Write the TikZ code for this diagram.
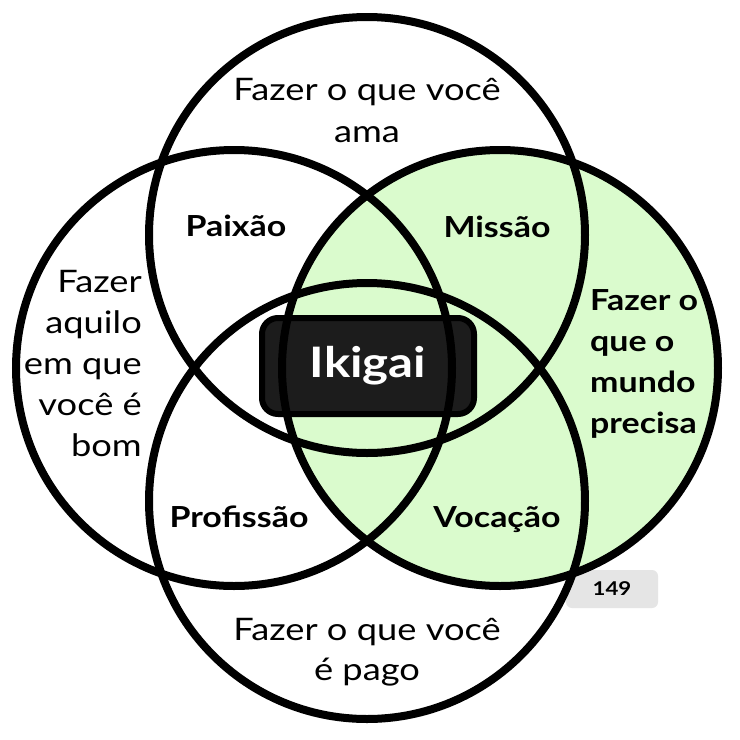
\documentclass[tikz,border=0pt]{standalone}
\usepackage{fontspec}
\setmainfont{Lato}[FakeStretch=1.17]
\definecolor{vgreen}{RGB}{218,251,205}
\definecolor{badgegray}{RGB}{229,229,229}
\definecolor{boxfill}{RGB}{28,28,28}
\begin{document}
\begin{tikzpicture}[x=1pt,y=-1pt,
  ring/.style={draw=black,line width=8pt},
  plain/.style={font=\fontsize{31}{38}\selectfont,inner sep=0pt,anchor=base},
  bold/.style={font=\fontsize{29}{36}\selectfont\bfseries,inner sep=0pt,anchor=base}]
\useasboundingbox (0,0) rectangle (740,740);
\fill[white] (0,0) rectangle (740,740);
% coordinates of the circle centres
\coordinate (ctop) at (367,235);
\coordinate (cbot) at (367,501);
\coordinate (cleft) at (234,368);
\coordinate (cright) at (500,368);
% green circle
\fill[vgreen] (cright) circle[radius=218pt];
% badge
\node[fill=badgegray,rounded corners=6pt,minimum width=92pt,minimum height=38pt,inner sep=0pt,
  font=\fontsize{19}{22}\selectfont\bfseries] (badge) at (612,589) {149};
% Ikigai box
\node[fill=boxfill,draw=black,line width=6pt,rounded corners=16pt,minimum width=212pt,minimum height=96pt,
  inner sep=0pt] (ikibox) at (368,366) {};
% circles
\draw[ring] (ctop) circle[radius=218pt];
\draw[ring] (cleft) circle[radius=218pt];
\draw[ring] (cright) circle[radius=218pt];
\draw[ring] (cbot) circle[radius=218pt];
% Ikigai text
\node[text=white,font=\fontsize{42}{50}\selectfont\bfseries,inner sep=0pt] (iki) at (368,366) {Ikigai};
% top texts
\node[plain] (t1) at (367,100) {Fazer o que você};
\node[plain] (t2) at (367,142) {ama};
% bottom texts
\node[plain] (b1) at (367,640) {Fazer o que você};
\node[plain] (b2) at (367,680) {é pago};
% left texts
\node[plain,anchor=base east] (l1) at (142,292) {Fazer};
\node[plain,anchor=base east] (l2) at (142,333) {aquilo};
\node[plain,anchor=base east] (l3) at (142,374) {em que};
\node[plain,anchor=base east] (l4) at (142,415) {você é};
\node[plain,anchor=base east] (l5) at (142,456) {bom};
% right texts
\node[bold,anchor=base west] (r1) at (590,310) {Fazer o};
\node[bold,anchor=base west] (r2) at (590,351) {que o};
\node[bold,anchor=base west] (r3) at (590,392) {mundo};
\node[bold,anchor=base west] (r4) at (590,433) {precisa};
% intersections
\node[bold] (paixao) at (236,236) {Paixão};
\node[bold] (missao) at (497,237) {Missão};
\node[bold] (profissao) at (239,527) {Profissão};
\node[bold] (vocacao) at (497,527) {Vocação};
\end{tikzpicture}
\end{document}
